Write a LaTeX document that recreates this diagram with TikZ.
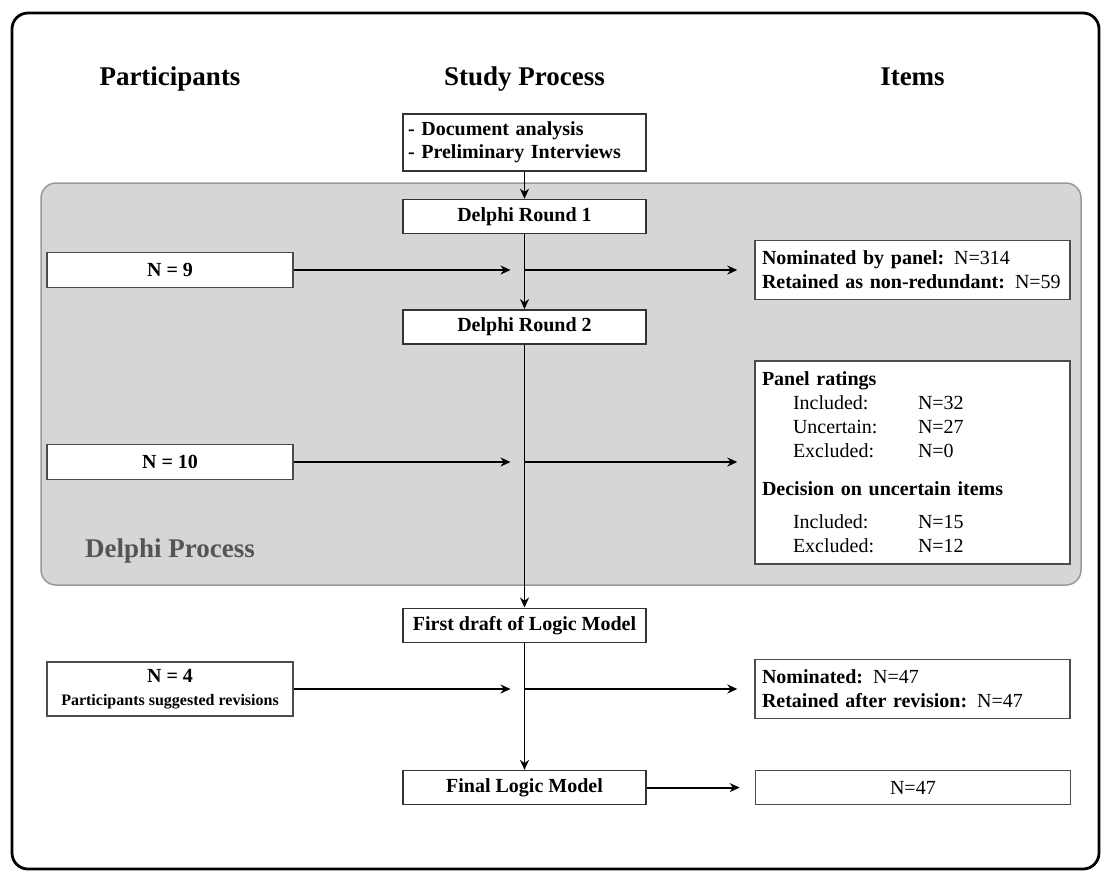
\documentclass[tikz,border=0pt]{standalone}
\usepackage{fontspec}
\setmainfont{Liberation Serif}
\usetikzlibrary{arrows.meta, positioning}
\definecolor{panelgray}{HTML}{D6D6D6}
\definecolor{edgegray}{HTML}{9A9A9A}
\definecolor{labelgray}{HTML}{555555}
\newcommand{\rated}[2]{\hspace*{31pt}\makebox[125pt][l]{#1}#2}

\begin{document}
\begin{tikzpicture}[x=1pt, y=-1pt,
            proc/.style={draw=black!80,line width=1.4pt,fill=white,minimum width=243pt,minimum height=34pt,inner sep=0pt,font=\fontsize{20}{23}\selectfont\bfseries},
            part/.style={draw=black!70,line width=1.4pt,fill=white,minimum width=246pt,minimum height=35pt,inner sep=0pt,font=\fontsize{20}{23}\selectfont\bfseries},
            item/.style={draw=black!70,line width=1.4pt,fill=white,text width=301pt,inner xsep=7pt,inner ysep=0pt,align=left,font=\fontsize{20}{24}\selectfont},
            head/.style={anchor=base,font=\fontsize{27}{32}\selectfont\bfseries},
            arr/.style={-{Stealth[length=10pt,width=9pt]},line width=1.9pt}]

            \useasboundingbox (0,0) rectangle (1104,873);

            % Frame and Delphi panel
            \draw[line width=2.8pt,rounded corners=16pt] (12,13) rectangle (1099,869);
            \draw[draw=edgegray,line width=1.5pt,fill=panelgray,rounded corners=15pt] (41,183) rectangle (1081,585);
            \node[head,text=labelgray] (delphi) at (170,557) {Delphi Process};

            % Column heads
            \node[head] (hpart) at (170,85) {Participants};
            \node[head] (hproc) at (524.5,85) {Study Process};
            \node[head] (hitem) at (912.5,85) {Items};

            % Study process column
            \node[proc,minimum height=57pt,text width=233pt,align=left] (docs) at (524.5,142.5) {- Document analysis\\- Preliminary Interviews};
            \node[proc,below=27pt of docs] (r1) {Delphi Round 1};
            \node[proc,below=75pt of r1] (r2) {Delphi Round 2};
            \node[proc,below=263pt of r2] (draft) {First draft of Logic Model};
            \node[proc,below=127pt of draft] (final) {Final Logic Model};

            % Participants column
            \node[part] (n9) at (170,270) {N = 9};
            \node[part] (n10) at (170,462) {N = 10};
            \node[part,minimum height=54pt,align=center] (n4) at (170,689) {N = 4\\{\fontsize{16}{19}\selectfont Participants suggested revisions}};

            % Items column
            \node[item,minimum height=59pt] (it1) at (912.5,270) {\textbf{Nominated by panel:} N=314\\\textbf{Retained as non-redundant:} N=59};
            \node[item,minimum height=203pt] (it2) at (912.5,462.5) {\textbf{Panel ratings}\\
                \rated{Included:}{N=32}\\
                \rated{Uncertain:}{N=27}\\
                \rated{Excluded:}{N=0}\\[14pt]
                \textbf{Decision on uncertain items}\\[9pt]
                \rated{Included:}{N=15}\\
                \rated{Excluded:}{N=12}};
            \node[item,minimum height=59pt] (it3) at (912.5,689) {\textbf{Nominated:} N=47\\\textbf{Retained after revision:} N=47};
            \node[item,minimum height=34pt,align=center,right=108pt of final] (it4) {N=47};

            % Main flow
            \draw[arr] (docs) -- (r1);
            \draw[arr] (r1) -- (r2);
            \draw[arr] (r2) -- (draft);
            \draw[arr] (draft) -- (final);

            % Side inputs and outputs
            \coordinate (j9) at (r1.south |- n9);
            \coordinate (j10) at (r2.south |- n10);
            \coordinate (j4) at (draft.south |- n4);
            \draw[arr,shorten >=14pt] (n9) -- (j9);
            \draw[arr,shorten >=17pt] (j9) -- (it1.west |- j9);
            \draw[arr,shorten >=14pt] (n10) -- (j10);
            \draw[arr,shorten >=17pt] (j10) -- (it2.west |- j10);
            \draw[arr,shorten >=14pt] (n4) -- (j4);
            \draw[arr,shorten >=17pt] (j4) -- (it3.west |- j4);
            \draw[arr,shorten >=15pt] (final) -- (it4);
        \end{tikzpicture}
\end{document}
